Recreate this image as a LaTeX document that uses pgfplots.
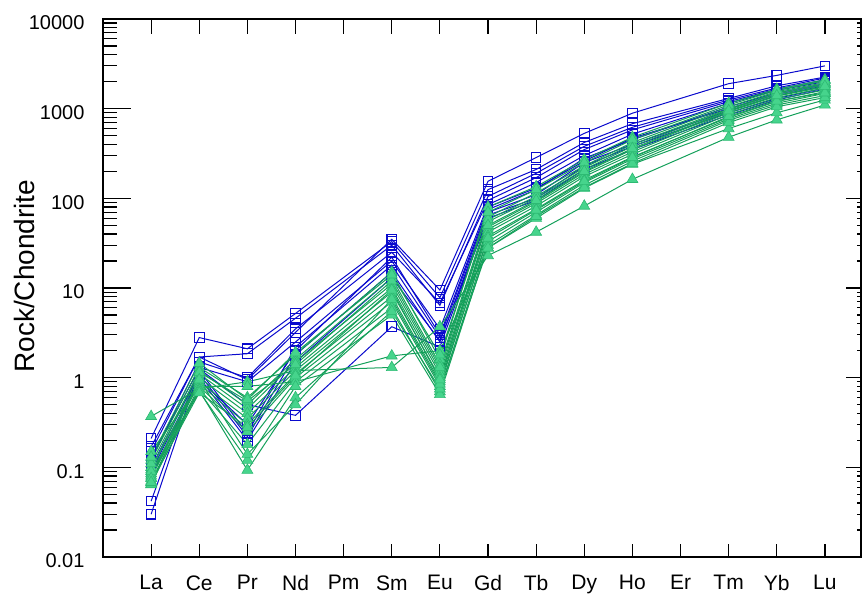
\documentclass[border=0pt]{standalone}
\usepackage{fontspec}
\setmainfont{Liberation Sans}
\usepackage{pgfplots}
\usepackage{pgfplotstable}
\pgfplotsset{compat=1.18}

\definecolor{reeblue}{RGB}{10,10,205}
\definecolor{reegreen}{RGB}{20,160,90}
\definecolor{reegreenfill}{RGB}{70,212,140}

% chondrite-normalised REE, blue group (squares)
\pgfplotstableread{
x  B1   B2   B3   B4   B5    B6    B7   B8   B9   B10
1  0.17 0.21 0.15 0.12 0.042 0.030 0.10 0.13 0.09 0.08
2  1.7  2.8  1.7  1.5  1.3   1.2   1.1  1.25 1.0  0.95
3  0.95 2.1  1.85 1.0  0.9   0.24  0.22 0.5  0.2  0.3
4  3.2  5.2  4.6  3.5  2.5   2.2   1.8  0.38 1.5  2.0
6  35   33   30   25   20    18    15   3.7  13   22
7  9.5  7.8  6.4  6.8  3.5   2.8   2.5  2.2  2.6  3.0
8  155  125  105  95   85    75    70   65   60   80
9  285  210  190  170  150   125   110  100  95   130
10 530  420  380  350  300   280   250  230  210  260
11 890  680  620  580  520   450   400  380  350  470
13 1900 1300 1250 1200 1150  1050  950  900  850  1000
14 2350 1800 1700 1650 1600  1500  1400 1300 1250 1450
15 3000 2250 2200 2100 2000  1900  1800 1700 1650 1850
}\bluedata

% green group (triangles)
\pgfplotstableread{
x  G1   G2   G3   G4    G5    G6    G7   G8    G9   G10   G11  G12   G13  G14  G15   G16
1  0.37 0.15 0.12 0.094 0.076 0.064 0.10 0.085 0.07 0.065 0.08 0.09  0.11 0.13 0.075 0.068
2  0.75 0.8  1.3  1.2   1.1   1.0   0.9  0.85  0.8  0.75  0.7  0.72  1.15 1.45 0.95  0.68
3  0.9  0.8  0.6  0.5   0.45  0.4   0.35 0.3   0.25 0.18  0.12 0.093 0.55 0.57 0.14  0.28
4  1.2  0.9  1.8  1.6   1.5   1.3   1.2  1.1   1.0  0.9   0.8  0.6   1.4  1.9  0.5   1.05
6  1.3  1.75 15   13    11    10    9    8     7    6     5    5.5   12   14   7.5   9.5
7  3.7  2.0  1.6  1.4   1.2   1.1   1.0  0.9   0.8  0.7   0.65 0.75  1.3  1.8  0.85  0.95
8  23   28   80   62    55    48    45   42    38   33    30   28    58   70   36    50
9  42   60   135  115   100   92    88   82    76   70    65   63    105  125  74    95
10 82   130  270  230   210   195   185  175   160  150   140  132   220  250  155   200
11 163  240  480  420   380   350   330  310   290  275   260  245   400  450  285   360
13 480  600  1150 1050  980   930   900  860   800  770   740  700   1000 1100 820   950
14 750  900  1650 1550  1450  1380  1330 1270  1200 1150  1100 1050  1500 1600 1220  1400
15 1100 1250 2100 1950  1850  1750  1700 1620  1550 1480  1400 1330  1900 2050 1500  1780
}\greendata

\pgfplotsset{
  reebox/.style={
    scale only axis, width=758pt, height=538pt,
    xmin=0, xmax=15.75, ymin=0.01, ymax=10000,
    axis line style={black, line width=1.4pt},
    tick style={black, line width=1.2pt},
    tick align=inside,
  },
  decades/.style={
    ytick={0.01,0.1,1,10,100,1000,10000},
    minor ytick={0.02,0.03,0.04,0.05,0.06,0.07,0.08,0.09,
      0.2,0.3,0.4,0.5,0.6,0.7,0.8,0.9,2,3,4,5,6,7,8,9,
      20,30,40,50,60,70,80,90,200,300,400,500,600,700,800,900,
      2000,3000,4000,5000,6000,7000,8000,9000},
  },
  blueline/.style={color=reeblue, line width=1pt, mark=square,
    mark size=4.8pt, mark options={line width=1.1pt, fill=none}},
  greenline/.style={color=reegreen, line width=1pt, mark=triangle*,
    mark size=6.3pt, mark options={line width=0.6pt, fill=reegreenfill, draw=reegreen!50!reegreenfill}},
}

\begin{document}
\begin{tikzpicture}
% data, left y ticks and labels
\begin{axis}[
  ymode=log, reebox, decades,
  ytick pos=left,
  major tick length=28pt, minor tick length=14pt,
  xtick=\empty,
  yticklabels={0.01,0.1,1,10,100,1000,10000},
  yticklabel style={font=\fontsize{20}{22}\selectfont, xshift=-15pt, yshift=-4pt},
  ylabel={Rock/Chondrite},
  ylabel style={font=\fontsize{28}{30}\selectfont, at={(rel axis cs:-0.1035,0.522)}, anchor=center},
]
\pgfplotsinvokeforeach{1,...,10}{
  \addplot[blueline] table[x=x, y=B#1] {\bluedata};
}
\pgfplotsinvokeforeach{1,...,16}{
  \addplot[greenline] table[x=x, y=G#1] {\greendata};
}
\end{axis}
% bottom ticks and element names
\begin{axis}[
  ymode=log, reebox,
  xtick={1,...,15},
  xticklabels={La,Ce,Pr,Nd,Pm,Sm,Eu,Gd,Tb,Dy,Ho,Er,Tm,Yb,Lu},
  xtick pos=left, ytick=\empty,
  major tick length=13pt,
  xticklabel style={font=\fontsize{21}{23}\selectfont, yshift=-15pt},
]
\end{axis}
% top and right ticks
\begin{axis}[
  ymode=log, reebox, decades,
  xtick={1,...,15}, xticklabels={},
  xtick pos=right, ytick pos=right,
  yticklabels={},
  major tick length=15pt, minor tick length=4pt,
]
\end{axis}
\pgfresetboundingbox
\path (-103pt,-37pt) rectangle (759pt,557pt);
\end{tikzpicture}
\end{document}
